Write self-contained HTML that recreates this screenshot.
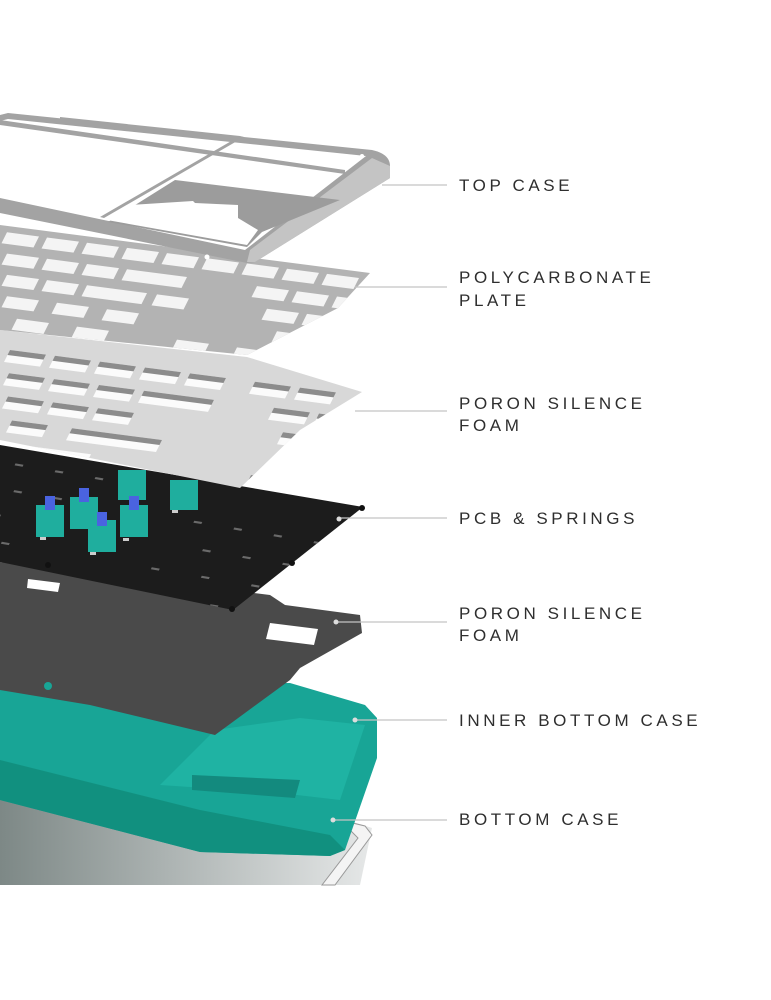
<!DOCTYPE html>
<html><head><meta charset="utf-8"><style>
body{margin:0;background:#fff;width:771px;height:1000px;overflow:hidden}
svg{position:absolute;left:0;top:0}
.t{font-family:"Liberation Sans",sans-serif;font-size:17px;letter-spacing:3.6px;fill:#2e2e2e}
</style></head><body>
<svg width="771" height="1000" viewBox="0 0 771 1000">
<defs>
<linearGradient id="bg" x1="0" y1="0" x2="1" y2="0"><stop offset="0" stop-color="#7d8886"/><stop offset="1" stop-color="#e6e8e8"/></linearGradient>
<clipPath id="cpPlate"><path d="M0 225 L370 273 L338 308 L247 355 L0 330 Z"/></clipPath>
<clipPath id="cpFoam"><path d="M0 330 L247 357 L362 392 L300 430 L240 488 L0 440 Z"/></clipPath>
<clipPath id="cpPcb"><path d="M0 445 L363 507 L233 610 L0 562 Z"/></clipPath>
</defs>
<!-- bottom case -->
<path d="M0 800 L300 805 L372 828 L360 885 L0 885 Z" fill="url(#bg)"/>
<path d="M290 808 L365 826 L372 835 L335 885 L322 885 L358 838 L350 830 L290 815 Z" fill="#f4f4f4" stroke="#999" stroke-width="1"/>
<!-- teal inner case -->
<path d="M0 680 L290 683 L365 705 L377 718 L377 758 L345 850 L330 856 L200 852 L0 800 Z" fill="#18a596"/>
<path d="M160 785 L215 730 L300 718 L365 725 L340 800 L280 793 Z" fill="#1fb3a3"/>
<path d="M192 775 L300 780 L295 798 L192 790 Z" fill="#138a7e"/>
<path d="M0 760 L200 810 L330 835 L345 850 L330 856 L200 852 L0 800 Z" fill="#11907f"/>
<!-- dark foam -->
<path d="M0 562 L270 595 L285 605 L360 615 L362 633 L300 668 L290 680 L215 735 L90 705 L0 690 Z" fill="#4a4a4a"/>
<path d="M270 623 L318 629 L314 645 L266 639 Z" fill="#fff"/>
<circle cx="48" cy="686" r="4" fill="#18a596"/>
<!-- PCB -->
<path d="M0 445 L363 507 L233 610 L0 562 Z" fill="#1c1c1c"/>
<g clip-path="url(#cpPcb)" fill="#6a6a6a">
<g transform="matrix(1,0.17,-0.45,1,0,450)">
<rect x="20" y="10" width="8" height="2"/><rect x="60" y="10" width="8" height="2"/><rect x="100" y="10" width="8" height="2"/><rect x="140" y="10" width="8" height="2"/><rect x="180" y="10" width="8" height="2"/>
<rect x="30" y="35" width="8" height="2"/><rect x="70" y="35" width="8" height="2"/><rect x="210" y="35" width="8" height="2"/><rect x="250" y="35" width="8" height="2"/><rect x="290" y="35" width="8" height="2"/><rect x="330" y="35" width="8" height="2"/>
<rect x="20" y="60" width="8" height="2"/><rect x="230" y="60" width="8" height="2"/><rect x="270" y="60" width="8" height="2"/><rect x="310" y="60" width="8" height="2"/><rect x="350" y="60" width="8" height="2"/>
<rect x="40" y="85" width="8" height="2"/><rect x="190" y="85" width="8" height="2"/><rect x="240" y="85" width="8" height="2"/><rect x="290" y="85" width="8" height="2"/><rect x="340" y="85" width="8" height="2"/>
<rect x="120" y="110" width="8" height="2"/><rect x="200" y="110" width="8" height="2"/><rect x="260" y="110" width="8" height="2"/><rect x="320" y="110" width="8" height="2"/>
</g></g>
<g fill="#111"><circle cx="362" cy="508" r="3"/><circle cx="292" cy="563" r="3"/><circle cx="232" cy="609" r="3"/><circle cx="48" cy="565" r="3"/></g>
<path d="M28 579 L60 583 L58 592 L27 588 Z" fill="#fff"/>
<g fill="#1fae9e">
<rect x="36" y="505" width="28" height="32"/><rect x="70" y="497" width="28" height="32"/><rect x="88" y="520" width="28" height="32"/><rect x="120" y="505" width="28" height="32"/><rect x="118" y="470" width="28" height="30"/><rect x="170" y="480" width="28" height="30"/>
</g>
<g fill="#4a63e0"><rect x="45" y="496" width="10" height="14"/><rect x="79" y="488" width="10" height="14"/><rect x="97" y="512" width="10" height="14"/><rect x="129" y="496" width="10" height="14"/></g>
<g fill="#ccc"><rect x="40" y="537" width="6" height="3"/><rect x="90" y="552" width="6" height="3"/><rect x="123" y="538" width="6" height="3"/><rect x="172" y="510" width="6" height="3"/></g>
<!-- light foam -->
<path d="M0 330 L247 357 L362 392 L300 430 L240 488 L0 440 Z" fill="#d8d8d8"/>
<g clip-path="url(#cpFoam)">
<g transform="matrix(1,0.13,-0.5,1,0,338)">
<g fill="#fbfbfb">
<rect x="15" y="10" width="36" height="12"/><rect x="60" y="10" width="36" height="12"/><rect x="105" y="10" width="36" height="12"/><rect x="150" y="10" width="36" height="12"/><rect x="195" y="10" width="36" height="12"/><rect x="260" y="10" width="36" height="12"/><rect x="305" y="10" width="36" height="12"/>
<rect x="25" y="32" width="36" height="12"/><rect x="70" y="32" width="36" height="12"/><rect x="115" y="32" width="36" height="12"/><rect x="160" y="32" width="70" height="12"/><rect x="290" y="32" width="36" height="12"/><rect x="335" y="32" width="36" height="12"/><rect x="380" y="32" width="36" height="12"/>
<rect x="35" y="54" width="36" height="12"/><rect x="80" y="54" width="36" height="12"/><rect x="125" y="54" width="36" height="12"/><rect x="310" y="54" width="36" height="12"/><rect x="355" y="54" width="36" height="12"/><rect x="400" y="54" width="36" height="12"/>
<rect x="50" y="76" width="36" height="12"/><rect x="110" y="76" width="90" height="12"/><rect x="330" y="76" width="36" height="12"/><rect x="375" y="76" width="36" height="12"/><rect x="420" y="76" width="36" height="12"/>
<rect x="80" y="98" width="60" height="30"/><rect x="300" y="98" width="36" height="12"/>
</g>
<g fill="#8c8c8c">
<rect x="15" y="10" width="36" height="5"/><rect x="60" y="10" width="36" height="5"/><rect x="105" y="10" width="36" height="5"/><rect x="150" y="10" width="36" height="5"/><rect x="195" y="10" width="36" height="5"/><rect x="260" y="10" width="36" height="5"/><rect x="305" y="10" width="36" height="5"/>
<rect x="25" y="32" width="36" height="5"/><rect x="70" y="32" width="36" height="5"/><rect x="115" y="32" width="36" height="5"/><rect x="160" y="32" width="70" height="5"/><rect x="290" y="32" width="36" height="5"/><rect x="335" y="32" width="36" height="5"/><rect x="380" y="32" width="36" height="5"/>
<rect x="35" y="54" width="36" height="5"/><rect x="80" y="54" width="36" height="5"/><rect x="125" y="54" width="36" height="5"/><rect x="310" y="54" width="36" height="5"/><rect x="355" y="54" width="36" height="5"/><rect x="400" y="54" width="36" height="5"/>
<rect x="50" y="76" width="36" height="5"/><rect x="110" y="76" width="90" height="5"/><rect x="330" y="76" width="36" height="5"/><rect x="375" y="76" width="36" height="5"/><rect x="420" y="76" width="36" height="5"/>
<rect x="300" y="98" width="36" height="5"/>
</g></g></g>
<!-- polycarbonate plate -->
<path d="M0 225 L370 273 L338 308 L247 355 L0 330 Z" fill="#b3b3b3"/>
<g clip-path="url(#cpPlate)" fill="#f4f4f4">
<g transform="matrix(1,0.13,-0.5,1,0,225)">
<rect x="10" y="6" width="32" height="11"/><rect x="50" y="6" width="32" height="11"/><rect x="90" y="6" width="32" height="11"/><rect x="130" y="6" width="32" height="11"/><rect x="170" y="6" width="32" height="11"/><rect x="210" y="6" width="32" height="11"/><rect x="250" y="6" width="32" height="11"/><rect x="290" y="6" width="32" height="11"/><rect x="330" y="6" width="32" height="11"/>
<rect x="20" y="26" width="32" height="11"/><rect x="60" y="26" width="32" height="11"/><rect x="100" y="26" width="32" height="11"/><rect x="140" y="26" width="60" height="11"/><rect x="270" y="26" width="32" height="11"/><rect x="310" y="26" width="32" height="11"/><rect x="350" y="26" width="32" height="11"/>
<rect x="30" y="46" width="32" height="11"/><rect x="70" y="46" width="32" height="11"/><rect x="110" y="46" width="60" height="11"/><rect x="180" y="46" width="32" height="11"/><rect x="290" y="46" width="32" height="11"/><rect x="330" y="46" width="32" height="11"/><rect x="370" y="46" width="32" height="11"/>
<rect x="40" y="66" width="32" height="11"/><rect x="90" y="66" width="32" height="11"/><rect x="140" y="66" width="32" height="11"/><rect x="310" y="66" width="32" height="11"/><rect x="350" y="66" width="32" height="11"/>
<rect x="60" y="86" width="32" height="11"/><rect x="120" y="86" width="32" height="11"/><rect x="220" y="86" width="32" height="11"/><rect x="280" y="86" width="32" height="11"/>
<rect x="100" y="106" width="32" height="11"/><rect x="200" y="106" width="32" height="11"/><rect x="250" y="106" width="32" height="11"/><rect x="300" y="106" width="32" height="11"/>
</g></g>
<!-- top case -->
<path d="M8 113 L372 150 Q390 154 390 166 L390 178 L255 262 L247 263 L0 213 L0 115 Z" fill="#a3a3a3"/>
<path d="M372 158 L390 166 L390 178 L255 262 L247 262 L250 250 Z" fill="#c4c4c4"/>
<path d="M8 119 L366 156 L245 250 L0 198 L0 121 Z" fill="#fff"/>
<path d="M0 120 L345 170 L345 174 L0 125 Z" fill="#a3a3a3"/>
<path d="M60 117 L240 136 L238 140 L60 122 Z" fill="#a3a3a3"/>
<path d="M240 136 L244 137 L104 218 L100 217 Z" fill="#a3a3a3"/>
<path d="M175 180 L340 200 L262 232 L247 247 L108 222 Z" fill="#9c9c9c"/>
<path d="M130 205 L193 201 L195 203 L238 205 L238 218 L258 230 L247 245 L107 220 Z" fill="#fff"/>
<circle cx="207" cy="257" r="2.5" fill="#fff"/>
<circle cx="362" cy="156" r="2" fill="#fff"/>
<!-- leader lines -->
<g stroke="#c4c4c4" stroke-width="1.2">
<line x1="382" y1="185" x2="447" y2="185"/>
<line x1="355" y1="287" x2="447" y2="287"/>
<line x1="355" y1="411" x2="447" y2="411"/>
<line x1="340" y1="518" x2="447" y2="518"/>
<line x1="336" y1="622" x2="447" y2="622"/>
<line x1="355" y1="720" x2="447" y2="720"/>
<line x1="333" y1="820" x2="447" y2="820"/>
</g>
<g fill="#ddd"><circle cx="339" cy="519" r="2.5"/><circle cx="336" cy="622" r="2.5"/><circle cx="355" cy="720" r="2.5"/><circle cx="333" cy="820" r="2.5"/></g>
<text class="t" x="459" y="191">TOP CASE</text>
<text class="t" x="459" y="283">POLYCARBONATE</text>
<text class="t" x="459" y="306">PLATE</text>
<text class="t" x="459" y="409">PORON SILENCE</text>
<text class="t" x="459" y="431">FOAM</text>
<text class="t" x="459" y="524">PCB &amp; SPRINGS</text>
<text class="t" x="459" y="619">PORON SILENCE</text>
<text class="t" x="459" y="641">FOAM</text>
<text class="t" x="459" y="726">INNER BOTTOM CASE</text>
<text class="t" x="459" y="825">BOTTOM CASE</text>
</svg>
</body></html>
